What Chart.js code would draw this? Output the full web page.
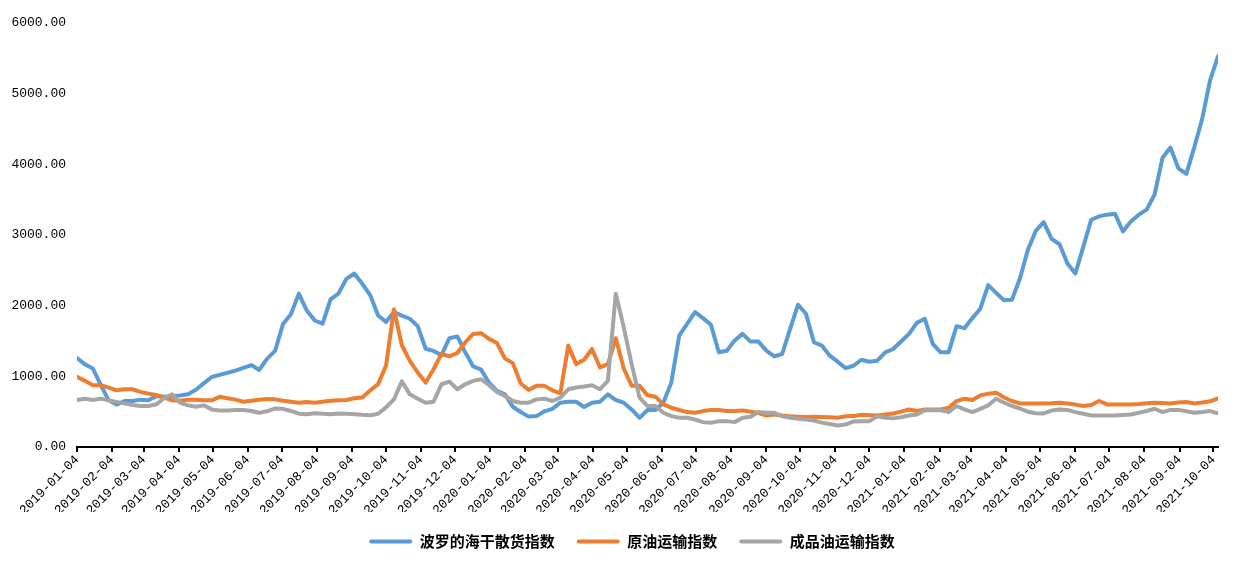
<!DOCTYPE html>
<html>
<head>
<meta charset="utf-8">
<script src="https://cdn.jsdelivr.net/npm/chart.js@4.4.0/dist/chart.umd.min.js"></script>
<style>
  html, body { margin: 0; padding: 0; background: #fff; }
</style>
</head>
<body>
<canvas id="canv" width="1252" height="567"></canvas>
<script>
// weekly data, first week 2019-01-04
const startDate = '2019-01-04';
const weekCount = 145;

const seriesNames = ['波罗的海干散货指数', '原油运输指数', '成品油运输指数'];

const bdi = [
  1260,1170,1110,880,660,600,650,650,670,660,
  720,710,720,730,745,810,900,990,1020,1050,
  1080,1120,1160,1090,1250,1360,1740,1880,2170,1930,
  1790,1745,2090,2170,2380,2455,2310,2150,1860,1770,
  1910,1860,1815,1710,1390,1360,1300,1540,1565,1340,
  1140,1095,910,795,745,570,495,430,437,505,
  540,627,640,640,566,627,641,745,665,627,
  532,413,523,523,627,910,1577,1743,1910,1824,
  1729,1340,1363,1506,1601,1492,1492,1363,1283,1316,
  1672,2013,1885,1482,1435,1292,1207,1116,1150,1235,
  1207,1221,1340,1387,1492,1601,1757,1814,1458,1340,
  1340,1710,1682,1824,1957,2290,2180,2076,2085,2384,
  2789,3059,3182,2945,2869,2598,2455,2836,3216,3263,
  3288,3302,3050,3192,3288,3359,3573,4094,4237,3943,
  3866,4237,4641,5187,5529
];

const crude = [
  993,936,874,874,841,802,817,817,779,755,
  736,698,660,655,670,670,660,660,710,690,
  670,640,655,670,680,674,655,640,627,637,
  627,640,655,662,665,690,700,800,890,1150,
  1950,1440,1220,1055,912,1100,1316,1283,1330,1482,
  1600,1611,1530,1472,1254,1187,898,808,865,865,
  802,760,1435,1173,1235,1387,1126,1173,1539,1111,
  865,865,731,712,603,556,523,494,485,508,
  523,523,508,508,518,500,480,446,458,445,
  435,428,423,427,425,422,413,435,437,455,
  450,446,460,475,500,530,510,530,530,532,
  556,650,684,665,730,755,769,700,651,617,
  617,617,617,620,627,617,600,580,594,651,
  603,603,603,603,610,620,627,622,617,630,
  637,617,630,646,688
];

const products = [
  665,684,665,684,660,637,617,594,580,580,
  603,690,745,627,589,570,589,532,518,518,
  525,525,510,485,505,545,540,510,472,462,
  478,470,462,475,470,465,455,448,470,560,
  674,930,745,684,627,641,888,926,817,888,
  936,959,874,779,722,651,627,627,674,684,
  651,698,817,841,855,874,817,936,2170,1696,
  1173,698,580,580,485,437,413,413,389,352,
  342,366,366,352,413,428,494,485,485,437,
  413,399,389,375,345,325,305,318,362,366,
  366,435,415,405,420,445,460,520,523,520,
  494,580,532,494,540,590,684,627,580,545,
  500,478,475,515,530,525,494,470,446,446,
  446,446,452,460,485,510,541,494,525,525,
  505,485,495,508,475
];

const monthTicks = [
  '2019-01-04','2019-02-04','2019-03-04','2019-04-04','2019-05-04','2019-06-04',
  '2019-07-04','2019-08-04','2019-09-04','2019-10-04','2019-11-04','2019-12-04',
  '2020-01-04','2020-02-04','2020-03-04','2020-04-04','2020-05-04','2020-06-04',
  '2020-07-04','2020-08-04','2020-09-04','2020-10-04','2020-11-04','2020-12-04',
  '2021-01-04','2021-02-04','2021-03-04','2021-04-04','2021-05-04','2021-06-04',
  '2021-07-04','2021-08-04','2021-09-04','2021-10-04'
];

const colors = ['#5B9BD5', '#ED7D31', '#A5A5A5'];

const dayMs = 86400000;
const t0 = Date.parse(startDate);
const dayOf = s => Math.round((Date.parse(s) - t0) / dayMs);

// weekly dates
const weeks = [];
for (let i = 0; i < weekCount; i++) {
  weeks.push(new Date(t0 + i * 7 * dayMs).toISOString().slice(0, 10));
}

const tickDays = monthTicks.map(dayOf);
const tickLabel = {};
monthTicks.forEach(s => { tickLabel[dayOf(s)] = s; });

const toPoints = arr => arr.map((v, i) => ({ x: dayOf(weeks[i]), y: v }));

const allSeries = [bdi, crude, products];
const datasets = allSeries.map((arr, k) => ({
  label: seriesNames[k],
  data: toPoints(arr),
  borderColor: colors[k],
  backgroundColor: colors[k],
  borderWidth: 4,
  pointRadius: 0,
  tension: 0,
  borderJoinStyle: 'round',
  borderCapStyle: 'round',
  order: 3 - k
}));

const numFont = { family: 'Liberation Mono', size: 13 };

// nudge the legend a little to the right, like the original
const legendShift = {
  id: 'legendShift',
  afterLayout(chart) {
    chart.legend.left += 23;
    chart.legend.right += 23;
  }
};

const ctx = document.getElementById('canv').getContext('2d');
new Chart(ctx, {
  type: 'line',
  data: { datasets: datasets },
  plugins: [legendShift],
  options: {
    responsive: false,
    animation: false,
    layout: { padding: { top: 23, right: 34, left: 0, bottom: 8 } },
    plugins: {
      tooltip: { enabled: false },
      legend: {
        position: 'bottom',
        labels: {
          boxWidth: 43,
          boxHeight: 4,
          padding: 22,
          color: '#000',
          font: { family: 'Noto Sans CJK SC', size: 15, weight: 'bold' },
          useBorderRadius: true,
          sort: (a, b) => a.datasetIndex - b.datasetIndex,
          generateLabels: chart => chart.data.datasets.map((ds, i) => ({
            text: ds.label,
            fillStyle: ds.borderColor,
            strokeStyle: ds.borderColor,
            lineWidth: 0,
            borderRadius: 2,
            hidden: false,
            datasetIndex: i
          }))
        }
      }
    },
    scales: {
      x: {
        type: 'linear',
        min: 0,
        max: dayOf(weeks[weeks.length - 1]),
        afterBuildTicks: scale => {
          scale.ticks = tickDays.map(d => ({ value: d }));
        },
        afterFit: scale => { scale.height = 65; },
        border: { display: true, color: '#000', width: 2 },
        grid: { display: true, drawOnChartArea: false, drawTicks: true, tickLength: 5, color: '#000', lineWidth: 2 },
        ticks: {
          autoSkip: false,
          minRotation: 45,
          maxRotation: 45,
          padding: 0,
          color: '#000',
          font: numFont,
          callback: v => tickLabel[v] || ''
        }
      },
      y: {
        min: 0,
        max: 6000,
        afterFit: scale => { scale.width = 77; },
        border: { display: false },
        grid: { display: false },
        ticks: {
          stepSize: 1000,
          padding: 3,
          color: '#000',
          font: numFont,
          callback: v => Number(v).toFixed(2)
        }
      }
    }
  }
});
</script>
</body>
</html>
